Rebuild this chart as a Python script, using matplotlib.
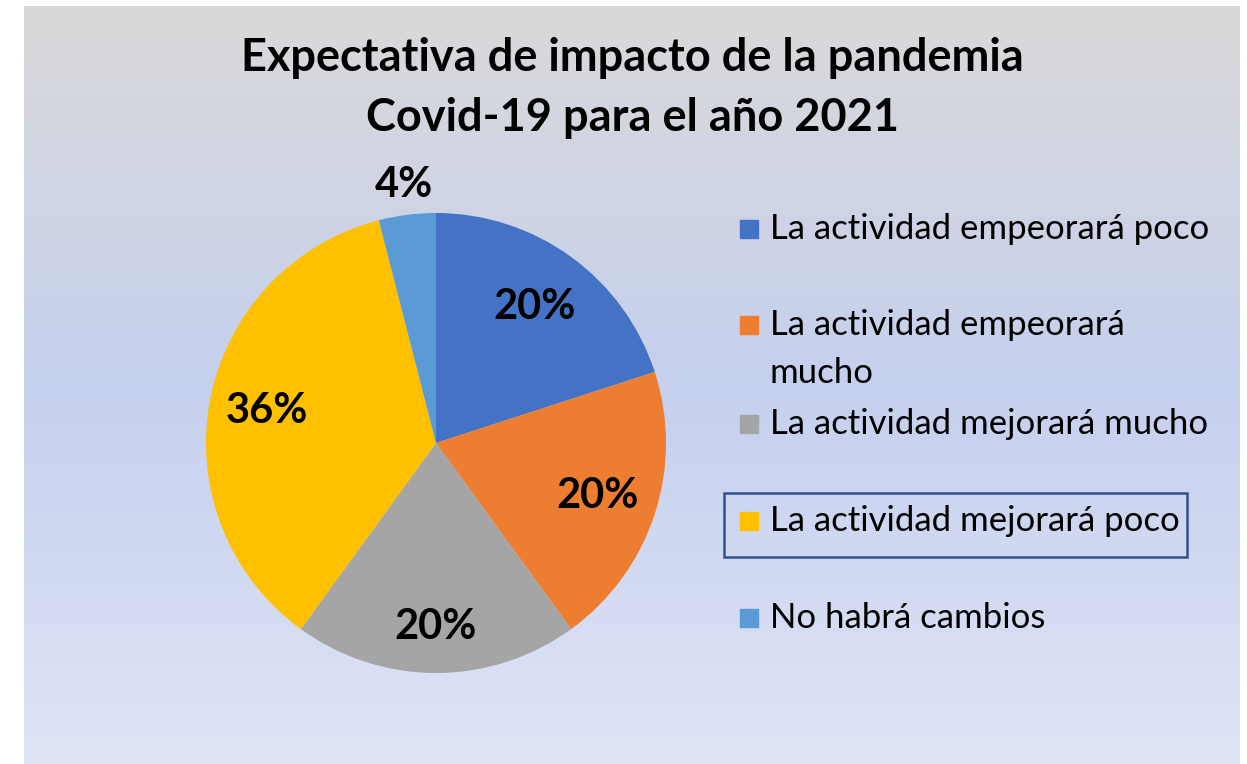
import numpy as np
import matplotlib
matplotlib.use("Agg")
import matplotlib.pyplot as plt
from matplotlib.patches import Rectangle

# data: 25 respondents
categories = ['La actividad empeorará poco', 'La actividad empeorará\nmucho',
              'La actividad mejorará mucho', 'La actividad mejorará poco',
              'No habrá cambios']
counts = [5, 5, 5, 9, 1]
colors = ['#4472C4', '#ED7D31', '#A5A5A5', '#FFC000', '#5B9BD5']
title = 'Expectativa de impacto de la pandemia\nCovid-19 para el año 2021'

plt.rcParams['font.family'] = ['Lato', 'DejaVu Sans']

W, H = 1247, 764
fig = plt.figure(figsize=(W / 100, H / 100), dpi=100)
fig.patch.set_facecolor('white')
ax = fig.add_axes([0, 0, 1, 1])

# chart area background gradient (top grey -> blue -> light blue)
stops = np.array([0.0, 0.5, 1.0])
cols = np.array([[217, 217, 217], [197, 208, 238], [223, 228, 246]]) / 255
t = np.linspace(0, 1, 256)
grad = np.stack([np.interp(t, stops, cols[:, k]) for k in range(3)], axis=1)
ax.imshow(grad[:, None, :], extent=[24, 1240, 0, H - 6], aspect='auto', zorder=0)

# pie
cx, cy, r = 436, H - 443, 230
wedges, _ = ax.pie(counts, colors=colors, startangle=90, counterclock=False,
                   center=(cx, cy), radius=r, frame=True,
                   wedgeprops=dict(linewidth=0))
ax.set_xlim(0, W)
ax.set_ylim(0, H)
ax.set_aspect('equal')
ax.axis('off')

# percentage labels
total = sum(counts)
label_r = [0.73, 0.74, 0.80, 0.75, 1.13]
ang = 90.0
for v, lr in zip(counts, label_r):
    mid = np.deg2rad(ang - 360 * v / total / 2)
    ang -= 360 * v / total
    ax.text(cx + lr * r * np.cos(mid), cy + lr * r * np.sin(mid),
            f'{100 * v / total:.0f}%', ha='center', va='center',
            fontsize=30, fontweight='bold', color='black', zorder=5)

# title
ax.text(632, H - 88, title, ha='center', va='center', fontsize=32.5,
        fontweight='bold', linespacing=1.55, color='black')

# legend
leg_y = [229, 325, 424, 521, 618]
for y, c, lab in zip(leg_y, colors, categories):
    ax.add_patch(Rectangle((740, H - y - 9), 18, 18, color=c, zorder=5))
    if '\n' in lab:
        ax.text(770, H - y + 16, lab, ha='left', va='top', fontsize=25,
                color='black', linespacing=1.62)
    else:
        ax.text(770, H - y, lab, ha='left', va='center', fontsize=25,
                color='black')

# selection box around one legend entry
ax.add_patch(Rectangle((724, H - 557), 463, 64, fill=False,
                       edgecolor='#2F528F', linewidth=1.8, zorder=6))

fig.savefig('out.png', dpi=100)
